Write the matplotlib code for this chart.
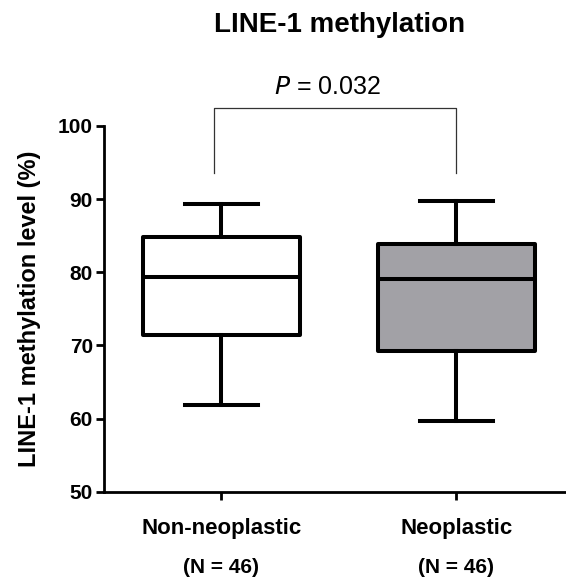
import matplotlib
matplotlib.use('Agg')
import matplotlib.pyplot as plt

plt.rcParams['font.family'] = ['Liberation Sans', 'DejaVu Sans']

# Box summary per group (%)
groups = ['Non-neoplastic', 'Neoplastic']
counts = [46, 46]
whisker_low = [61.8, 59.7]
q1 = [71.4, 69.3]
median = [79.4, 79.1]
q3 = [84.8, 83.8]
whisker_high = [89.4, 89.8]
box_colors = ['white', '#a2a1a6']
p_value = 0.032

fig = plt.figure(figsize=(5.66, 5.79), dpi=100)
ax = fig.add_axes([0.1837, 0.1508, 0.83, 0.6316])

stats = []
for i, g in enumerate(groups):
    stats.append(dict(label=g, whislo=whisker_low[i], q1=q1[i], med=median[i],
                      q3=q3[i], whishi=whisker_high[i], fliers=[]))

lw = 2.9
bp = ax.bxp(stats, positions=[1, 2], widths=0.668, capwidths=0.31,
            showfliers=False, patch_artist=True,
            boxprops=dict(linewidth=lw, edgecolor='black', joinstyle='round'),
            medianprops=dict(linewidth=lw, color='black'),
            whiskerprops=dict(linewidth=lw, color='black'),
            capprops=dict(linewidth=lw, color='black'))
for patch, c in zip(bp['boxes'], box_colors):
    patch.set_facecolor(c)

ax.set_xlim(0.5, 2.5)
ax.set_ylim(50, 100)
ax.set_yticks([50, 60, 70, 80, 90, 100])
ax.set_xticks([1, 2])
ax.set_xticklabels([])
ax.tick_params(axis='y', length=6, width=2, labelsize=15, pad=2)
ax.tick_params(axis='x', length=6, width=2)
for lbl in ax.get_yticklabels():
    lbl.set_fontweight('bold')
for s in ['top', 'right']:
    ax.spines[s].set_visible(False)
for s in ['left', 'bottom']:
    ax.spines[s].set_linewidth(2)

ax.set_ylabel('LINE-1 methylation level (%)', fontsize=17, fontweight='bold', labelpad=12)

# group names and sample sizes under the axis
for i, g in enumerate(groups):
    ax.text(i + 1, -0.102, g, transform=ax.get_xaxis_transform(), ha='center',
            va='center', fontsize=16, fontweight='bold')
    ax.text(i + 1, -0.206, f'(N = {counts[i]})', transform=ax.get_xaxis_transform(),
            ha='center', va='center', fontsize=15, fontweight='bold')

# significance bracket
ax.plot([0.97, 0.97, 2, 2], [93.6, 102.4, 102.4, 93.6], color='#333333',
        linewidth=0.9, clip_on=False)
ax.text(1.45, 105.3, f'$\\it{{P}}$ = {p_value}', ha='center', va='center', fontsize=18)

fig.text(339.5 / 566, 1 - 25 / 579, 'LINE-1 methylation', ha='center', va='center',
         fontsize=20, fontweight='bold')

fig.savefig('out.png', dpi=100)
